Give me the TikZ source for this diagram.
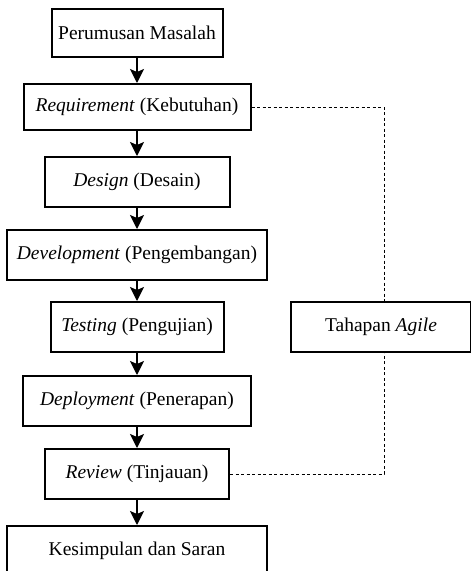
\documentclass[tikz,border=0pt]{standalone}
\usepackage{fontspec}
\setmainfont{Liberation Serif}
\usetikzlibrary{arrows.meta}
\begin{document}
\begin{tikzpicture}[x=1pt,y=-1pt,
  stage/.style={draw, line width=2pt, minimum height=50pt, inner sep=0pt,
    font=\fontsize{19.5}{23}\selectfont, align=center},
  flow/.style={line width=1.7pt, -{Stealth[length=14pt,width=14pt,inset=3pt]}},
  link/.style={line width=1pt, dash pattern=on 3pt off 2.5pt}]
\clip (0,0) rectangle (471,571);
% main sequence of stages
\node[stage, minimum width=171pt, minimum height=48pt] (masalah) at (137,33) {Perumusan Masalah};
\node[stage, minimum width=227pt, minimum height=46pt] (req) at (137,107) {\textit{Requirement} (Kebutuhan)};
\node[stage, minimum width=185pt] (design) at (137,182) {\textit{Design} (Desain)};
\node[stage, minimum width=260pt] (dev) at (137,255) {\textit{Development} (Pengembangan)};
\node[stage, minimum width=173pt] (test) at (137,327) {\textit{Testing} (Pengujian)};
\node[stage, minimum width=228pt] (deploy) at (137,401) {\textit{Deployment} (Penerapan)};
\node[stage, minimum width=184pt] (review) at (137,474) {\textit{Review} (Tinjauan)};
\node[stage, minimum width=260pt] (simpul) at (137,551) {Kesimpulan dan Saran};
% agile group label
\node[stage, minimum width=180pt] (agile) at (381,327) {Tahapan \textit{Agile}};
% arrows
\draw[flow] (masalah) -- (req);
\draw[flow] (req) -- (design);
\draw[flow] (design) -- (dev);
\draw[flow] (dev) -- (test);
\draw[flow] (test) -- (deploy);
\draw[flow] (deploy) -- (review);
\draw[flow] (review) -- (simpul);
% dashed bracket
\coordinate (top) at (384,107);
\coordinate (bottom) at (384,474);
\draw[link] (req.east) -- (top) -- (top |- agile.north);
\draw[link] (review.east) -- (bottom) -- (bottom |- agile.south);
\end{tikzpicture}
\end{document}
